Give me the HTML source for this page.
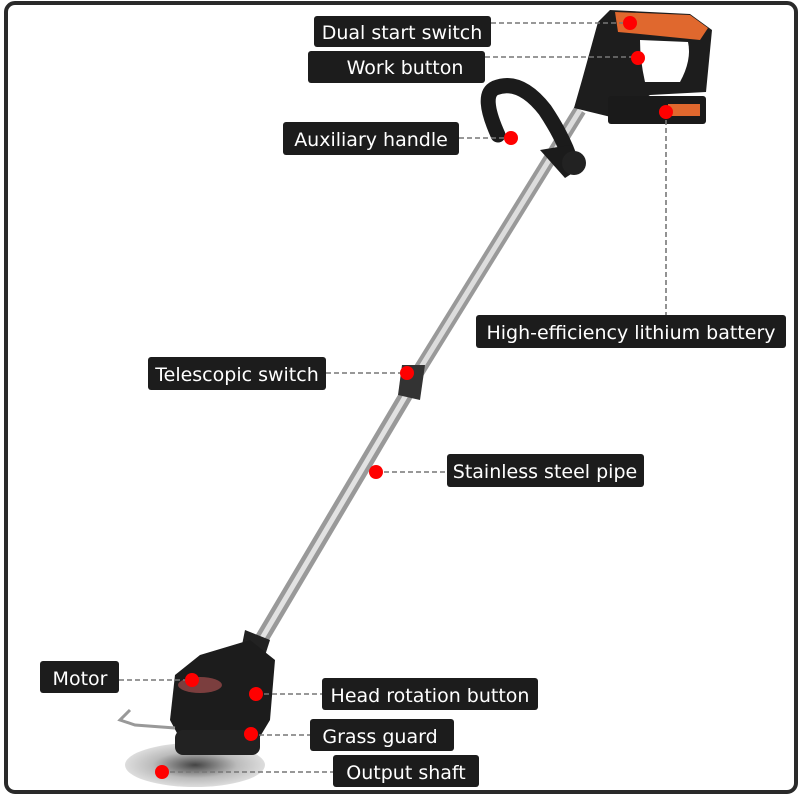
<!DOCTYPE html>
<html><head><meta charset="utf-8"><style>
html,body{margin:0;padding:0;background:#fff;}
svg{display:block;}
text{font-family:"DejaVu Sans","Liberation Sans",sans-serif;font-size:19px;fill:#fff;}
</style></head><body>
<svg width="800" height="800" viewBox="0 0 800 800" xmlns="http://www.w3.org/2000/svg">
<defs>
<radialGradient id="blade" cx="0.5" cy="0.5" r="0.5">
<stop offset="0" stop-color="#444"/><stop offset="0.6" stop-color="#bbb"/><stop offset="1" stop-color="#ddd"/>
</radialGradient>
</defs>
<rect x="0" y="0" width="800" height="800" fill="#fff"/>
<rect x="6" y="3" width="790" height="789" rx="9" fill="none" stroke="#2a2a2a" stroke-width="4"/>

<!-- pipe -->
<line x1="580" y1="110" x2="410" y2="385" stroke="#999" stroke-width="13"/>
<line x1="580" y1="110" x2="410" y2="385" stroke="#ddd" stroke-width="5"/>
<line x1="412" y1="385" x2="255" y2="650" stroke="#999" stroke-width="14"/>
<line x1="412" y1="385" x2="255" y2="650" stroke="#e2e2e2" stroke-width="5"/>
<polygon points="402,365 425,365 420,400 398,395" fill="#333"/>
<polygon points="245,630 270,640 262,665 240,655" fill="#222"/>

<!-- aux handle loop -->
<path d="M498,135 Q480,95 495,88 Q520,78 545,110 Q565,140 572,165" fill="none" stroke="#1b1b1b" stroke-width="15" stroke-linecap="round"/>
<path d="M540,150 L565,178 L585,165 L570,145 Z" fill="#1b1b1b"/>
<circle cx="574" cy="163" r="12" fill="#222"/>

<!-- main handle -->
<path d="M598,22 L610,10 L690,14 L712,30 L706,92 L650,95 L615,118 L574,108 L582,80 Z" fill="#1d1d1d"/>
<path d="M640,40 L688,42 Q692,60 680,82 L645,82 Q640,60 640,40 Z" fill="#fff"/>
<path d="M615,12 L690,15 L708,28 L700,40 L640,34 L618,32 Z" fill="#e0682e"/>
<rect x="608" y="96" width="98" height="28" rx="3" fill="#1a1a1a"/>
<rect x="668" y="104" width="32" height="12" fill="#e0682e"/>

<!-- motor head -->
<path d="M200,655 L250,640 L275,660 L270,720 L255,745 L185,748 L170,720 L175,675 Z" fill="#1c1c1c"/>
<ellipse cx="200" cy="685" rx="22" ry="8" fill="#b55" opacity="0.6"/>
<ellipse cx="195" cy="765" rx="70" ry="22" fill="url(#blade)"/>
<rect x="175" y="730" width="85" height="25" rx="8" fill="#222"/>
<path d="M130,710 L120,720 L135,725 L175,728" fill="none" stroke="#999" stroke-width="3"/>

<!-- connectors -->
<g stroke="#777" stroke-width="1.6" stroke-dasharray="5,3" fill="none">
<line x1="491" y1="23" x2="630" y2="23"/>
<line x1="485" y1="57" x2="638" y2="57"/>
<line x1="459" y1="138" x2="511" y2="138"/>
<line x1="666" y1="112" x2="666" y2="315"/>
<line x1="326" y1="373" x2="407" y2="373"/>
<line x1="376" y1="472" x2="447" y2="472"/>
<line x1="119" y1="680" x2="192" y2="680"/>
<line x1="256" y1="694" x2="322" y2="694"/>
<line x1="251" y1="735" x2="310" y2="735"/>
<line x1="162" y1="772" x2="333" y2="772"/>
</g>
<g fill="#f00">
<circle cx="630" cy="23" r="7"/><circle cx="638" cy="58" r="7"/><circle cx="511" cy="138" r="7"/>
<circle cx="666" cy="112" r="7"/><circle cx="407" cy="373" r="7"/><circle cx="376" cy="472" r="7"/>
<circle cx="192" cy="680" r="7"/><circle cx="256" cy="694" r="7"/><circle cx="251" cy="734" r="7"/>
<circle cx="162" cy="772" r="7"/>
</g>

<!-- labels -->
<g fill="#1c1c1c">
<rect x="314" y="16" width="177" height="31" rx="3"/>
<rect x="308" y="51" width="177" height="32" rx="3"/>
<rect x="283" y="122" width="176" height="33" rx="3"/>
<rect x="476" y="315" width="310" height="33" rx="3"/>
<rect x="148" y="357" width="178" height="33" rx="3"/>
<rect x="447" y="454" width="197" height="33" rx="3"/>
<rect x="40" y="661" width="79" height="32" rx="3"/>
<rect x="322" y="678" width="216" height="32" rx="3"/>
<rect x="310" y="719" width="144" height="32" rx="3"/>
<rect x="333" y="755" width="146" height="32" rx="3"/>
</g>
<text x="402" y="39" text-anchor="middle">Dual start switch</text>
<text x="405" y="74" text-anchor="middle">Work button</text>
<text x="371" y="146" text-anchor="middle">Auxiliary handle</text>
<text x="631" y="339" text-anchor="middle">High-efficiency lithium battery</text>
<text x="237" y="381" text-anchor="middle">Telescopic switch</text>
<text x="545" y="478" text-anchor="middle">Stainless steel pipe</text>
<text x="80" y="685" text-anchor="middle">Motor</text>
<text x="430" y="702" text-anchor="middle">Head rotation button</text>
<text x="380" y="743" text-anchor="middle">Grass guard</text>
<text x="406" y="779" text-anchor="middle">Output shaft</text>
</svg>
</body></html>
